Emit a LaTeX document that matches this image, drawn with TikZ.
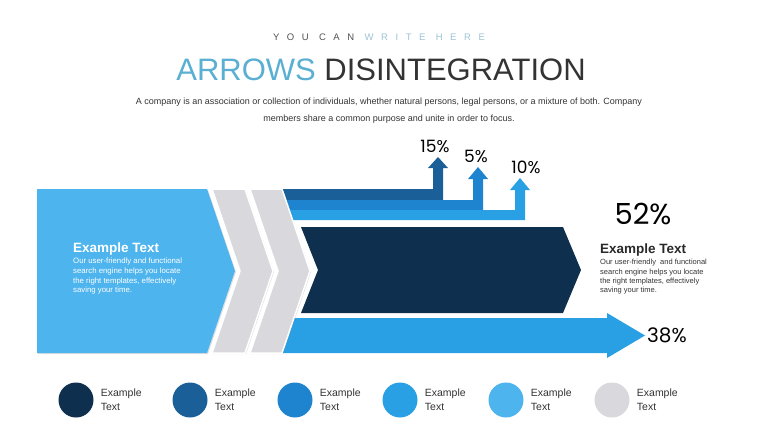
\documentclass[tikz,border=0pt]{standalone}
\usepackage{fontspec}
\setmainfont{Liberation Sans}
\newfontfamily\pctfont{Poppins}
\newfontfamily\widefont[LetterSpace=80]{Liberation Sans}
\usetikzlibrary{positioning,shadows}
\definecolor{navy}{HTML}{0F2F4E}
\definecolor{deepblue}{HTML}{1A5F98}
\definecolor{midblue}{HTML}{1E84D0}
\definecolor{skyblue}{HTML}{29A0E4}
\definecolor{paleblue}{HTML}{4DB4EE}
\definecolor{chevgray}{HTML}{D9D8DC}
\definecolor{titleblue}{HTML}{5AAFD2}
\definecolor{inkgray}{HTML}{333333}
\definecolor{kickblue}{HTML}{9CC3D4}

\begin{document}
\begin{tikzpicture}[x=1pt,y=-1pt,
panel/.style={drop shadow={opacity=0.25,shadow xshift=1pt,shadow yshift=-1pt}},
chev/.style={fill=chevgray,draw=white,line width=1.5pt,panel},
pct/.style={font=\pctfont\fontsize{17}{17}\selectfont,inner sep=0pt},
dot/.style={circle,minimum size=35pt,inner sep=0pt},
legtxt/.style={align=left,font=\fontsize{10.5}{14}\selectfont,inner sep=0pt,text=inkgray},
headtxt/.style={font=\bfseries\fontsize{13.5}{14}\selectfont,inner sep=0pt},
blurb/.style={align=left,font=\fontsize{7.8}{9.7}\selectfont,inner sep=0pt}]
\useasboundingbox (0,0) rectangle (760,428);

\node[anchor=base,inner sep=0pt] (kicker) at (379,41)
  {\widefont\fontsize{9.5}{10}\selectfont{\color{inkgray!85}YOU CAN} {\color{kickblue}WRITE HERE}};
\node[anchor=base,inner sep=0pt,font=\fontsize{31}{31}\selectfont,text=inkgray] (title) at (381,81)
  {{\color{titleblue}ARROWS} DISINTEGRATION};
\node[anchor=base,inner sep=0pt,align=center,text=inkgray,font=\fontsize{9}{17}\selectfont] (intro) at (389,121)
  {A company is an association or collection of individuals, whether natural persons, legal persons, or a mixture of both. Company\\
   members share a common purpose and unite in order to focus.};

\foreach \yt/\yb/\cx/\hb/\tipy/\col [count=\i] in
  {189/200/438/168/157/deepblue, 200/210/478/179/167/midblue, 210/220/520/190/178/skyblue}{
  \fill[\col] (270,\yt) -- (\cx-5,\yt) -- (\cx-5,\hb) -- (\cx-10,\hb) -- (\cx,\tipy)
    -- (\cx+10,\hb) -- (\cx+5,\hb) -- (\cx+5,\yb) -- (270,\yb) -- cycle;
  \coordinate (tip\i) at (\cx,\tipy);
}
\fill[navy] (301,227) -- (563,227) -- (581,270) -- (563,313) -- (301,313) -- (318,270) -- cycle;
\fill[skyblue] (270,318) -- (607,318) -- (607,313) -- (645,335.5) -- (607,358) -- (607,353) -- (270,353) -- cycle;
\coordinate (bigtip) at (645,335.5);

\fill[paleblue,panel] (37,189) -- (207,189) -- (235,271) -- (207,353) -- (37,353) -- cycle;
\filldraw[chev] (212,189) -- (245,189) -- (273,271) -- (245,353) -- (212,353) -- (240,271) -- cycle;
\filldraw[chev] (250,189) -- (282,189) -- (310,271) -- (282,353) -- (250,353) -- (278,271) -- cycle;

\node[pct,above=4pt of tip1,xshift=-3pt] (p15) {15\%};
\node[pct,above=4pt of tip2,xshift=-2pt] (p5) {5\%};
\node[pct,above=4pt of tip3,xshift=6pt] (p10) {10\%};
\node[pct,font=\pctfont\fontsize{20}{20}\selectfont,right=2pt of bigtip] (p38) {38\%};
\node[pct,font=\pctfont\fontsize{29}{29}\selectfont] (p52) at (643,214) {52\%};

\node[headtxt,text=white,anchor=base west] (lhead) at (73,252) {Example Text};
\node[blurb,text=white,below right=3pt and 0pt of lhead.south west] (lbody)
  {Our user-friendly and functional\\search engine helps you locate\\the right templates, effectively\\saving your time.};
\node[headtxt,text=inkgray!80!black,anchor=base west] (rhead) at (600,253) {Example Text};
\node[blurb,text=inkgray,font=\fontsize{7.5}{9.4}\selectfont,below right=3pt and 0pt of rhead.south west] (rbody)
  {Our user-friendly\ \ and functional\\search engine helps you locate\\the right templates, effectively\\saving your time.};

\foreach \col/\cx [count=\i] in {navy/76, deepblue/190, midblue/295, skyblue/400, paleblue/506, chevgray/612}{
  \node[dot,fill=\col] (dot\i) at (\cx,400) {};
  \node[legtxt,right=7pt of dot\i] (key\i) {Example\\Text};
}
\end{tikzpicture}
\end{document}
